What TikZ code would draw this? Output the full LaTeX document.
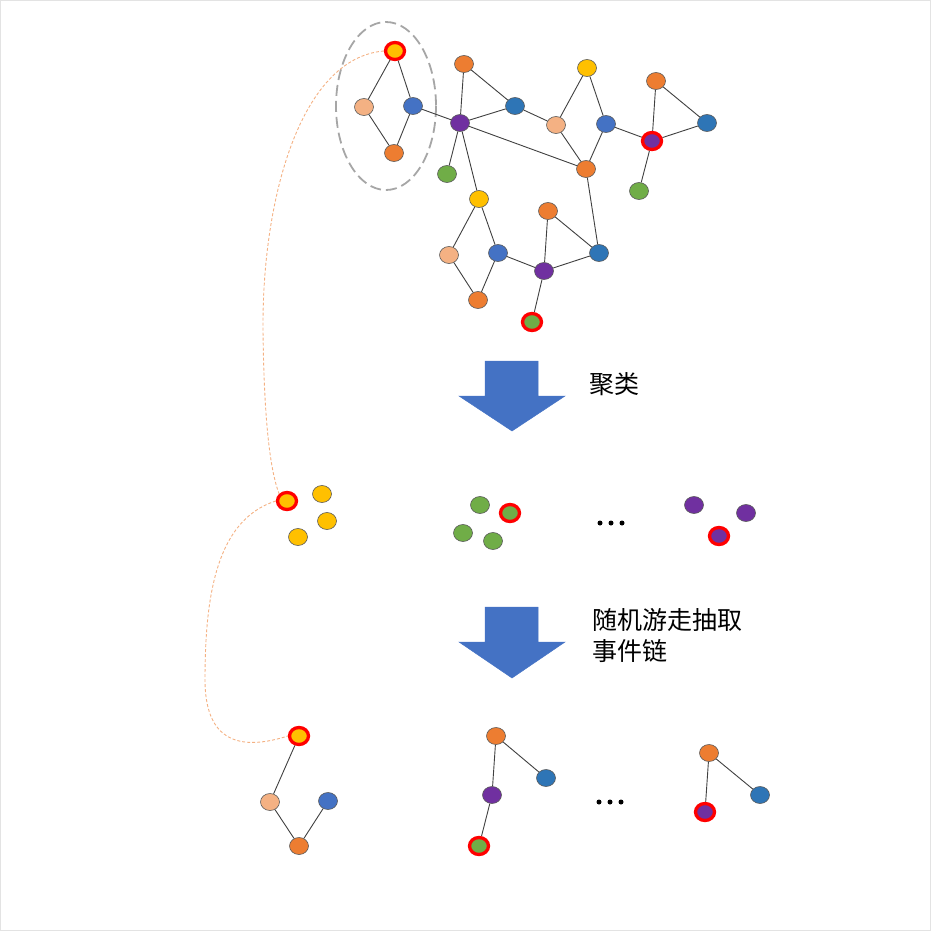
\documentclass[tikz,border=0pt]{standalone}
\usepackage{fontspec}
\newfontfamily\cjk{Noto Sans CJK SC}
\usetikzlibrary{shapes.geometric}
\definecolor{cOr}{HTML}{ED7D31}
\definecolor{cYe}{HTML}{FFC000}
\definecolor{cPe}{HTML}{F4B183}
\definecolor{cBl}{HTML}{4472C4}
\definecolor{cBd}{HTML}{2E75B6}
\definecolor{cPu}{HTML}{7030A0}
\definecolor{cGr}{HTML}{70AD47}
\definecolor{cEdge}{HTML}{404040}
\definecolor{cRim}{HTML}{5A5A5A}
\definecolor{cLink}{HTML}{F4B183}
\definecolor{cFrame}{HTML}{E3E3E3}
\definecolor{cDash}{HTML}{A6A6A6}
\tikzset{
  vtx/.style={ellipse, inner sep=0pt, minimum width=19pt, minimum height=17pt, draw=cRim, line width=0.6pt},
  hot/.style={draw=red, line width=3.3pt, minimum width=19pt, minimum height=17pt},
  or/.style={vtx, fill=cOr}, ye/.style={vtx, fill=cYe}, pe/.style={vtx, fill=cPe},
  bl/.style={vtx, fill=cBl}, bd/.style={vtx, fill=cBd}, pu/.style={vtx, fill=cPu},
  gr/.style={vtx, fill=cGr},
  edge/.style={draw=cEdge, line width=0.9pt},
  link/.style={draw=cLink, line width=0.9pt, dash pattern=on 3pt off 2pt},
  bigarrow/.style={fill=cBl, draw=cBl, line width=0.5pt},
  lbl/.style={font=\cjk\fontsize{25}{31}\selectfont, anchor=west, align=left, inner sep=0pt},
  dot/.style={circle, fill=black, inner sep=0pt, minimum size=5pt}
}
\begin{document}
\begin{tikzpicture}[x=1pt,y=-1pt]
\useasboundingbox (0,0) rectangle (931,931);
\draw[cFrame, line width=1pt] (0.5,0.5) rectangle (930.5,930.5);

% selection ellipse
\draw[cDash, line width=1.8pt, dash pattern=on 11pt off 5pt] (386,106) ellipse [x radius=50, y radius=84];

% top graph nodes
\node[ye,hot] (A) at (395,51) {};
\node[pe] (B) at (364,107) {};
\node[bl] (C) at (413,106) {};
\node[or] (D) at (394,153) {};
\node[pu] (E) at (460,123) {};
\node[or] (F) at (464,64) {};
\node[bd] (G) at (515,106) {};
\node[gr] (H) at (447,174) {};
\node[ye] (I) at (479,199) {};
\node[pe] (J) at (556,125) {};
\node[ye] (K) at (587,68) {};
\node[bl] (L) at (606,124) {};
\node[or] (M) at (586,169) {};
\node[or] (N) at (656,81) {};
\node[pu,hot] (O) at (652,141) {};
\node[bd] (P) at (707,123) {};
\node[gr] (Q) at (639,191) {};
\node[or] (R) at (548,211) {};
\node[pe] (S) at (449,255) {};
\node[bl] (T) at (498,253) {};
\node[pu] (U) at (544,271) {};
\node[bd] (V) at (599,253) {};
\node[or] (W) at (478,300) {};
\node[gr,hot] (X) at (532,322) {};

\foreach \a/\b in {A/B,A/C,B/D,C/D,C/E,E/F,E/G,E/H,E/I,E/M,F/G,G/J,J/K,K/L,J/M,L/M,L/O,O/N,O/P,N/P,O/Q,M/V,I/S,I/T,S/W,T/W,T/U,U/R,U/V,R/V,U/X}
  \draw[edge] (\a) -- (\b);

% arrows
\fill[bigarrow] (485,361) -- (538,361) -- (538,396) -- (565,396) -- (512,431) -- (459,396) -- (485,396) -- cycle;
\fill[bigarrow] (485,607) -- (538,607) -- (538,642) -- (565,642) -- (512,678) -- (459,642) -- (485,642) -- cycle;
\node[lbl] (t1) at (589,384) {聚类};
\node[lbl] (t2) at (592,636) {随机游走抽取\\事件链};

% clusters
\node[ye,hot] (c1a) at (287,501) {};
\node[ye] (c1b) at (322,494) {};
\node[ye] (c1c) at (327,521) {};
\node[ye] (c1d) at (298,537) {};
\node[gr] (c2a) at (480,505) {};
\node[gr,hot] (c2b) at (510,513) {};
\node[gr] (c2c) at (463,533) {};
\node[gr] (c2d) at (493,541) {};
\node[dot] (d1a) at (600,523) {};
\node[dot] (d1b) at (611,523) {};
\node[dot] (d1c) at (622,523) {};
\node[pu] (c3a) at (694,505) {};
\node[pu] (c3b) at (746,513) {};
\node[pu,hot] (c3c) at (719,536) {};

% chains
\node[ye,hot] (e1a) at (299,736) {};
\node[pe] (e1b) at (270,802) {};
\node[bl] (e1c) at (328,801) {};
\node[or] (e1d) at (299,846) {};
\draw[edge] (e1a) -- (e1b);
\draw[edge] (e1b) -- (e1d);
\draw[edge] (e1d) -- (e1c);
\node[or] (e2a) at (496,736) {};
\node[bd] (e2b) at (546,778) {};
\node[pu] (e2c) at (492,795) {};
\node[gr,hot] (e2d) at (479,846) {};
\draw[edge] (e2a) -- (e2b);
\draw[edge] (e2a) -- (e2c);
\draw[edge] (e2c) -- (e2d);
\node[dot] (d2a) at (599,802) {};
\node[dot] (d2b) at (610,802) {};
\node[dot] (d2c) at (621,802) {};
\node[or] (e3a) at (709,753) {};
\node[bd] (e3b) at (760,795) {};
\node[pu,hot] (e3c) at (705,812) {};
\draw[edge] (e3a) -- (e3b);
\draw[edge] (e3a) -- (e3c);

% links
\draw[link] (A.west) .. controls (300,58) and (262,200) .. (263,330) .. controls (264,420) and (270,470) .. (c1a.north west);
\draw[link] (c1a.west) .. controls (215,520) and (205,600) .. (205,680) .. controls (205,750) and (250,748) .. (e1a.west);
\end{tikzpicture}
\end{document}
